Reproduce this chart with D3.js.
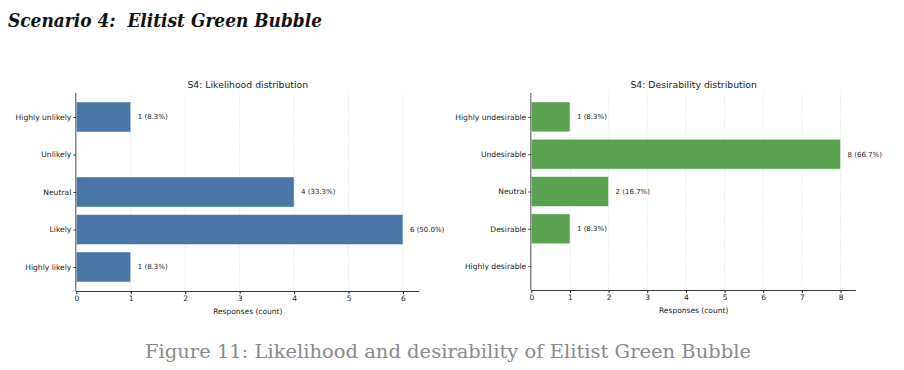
<!DOCTYPE html>
<html>
<head>
<meta charset="utf-8">
<script src="https://cdn.jsdelivr.net/npm/d3@7"></script>
<style>
  body { margin: 0; background: #fff; }
  svg { display: block; }
</style>
</head>
<body>
<svg id="chart" width="904" height="370"></svg>
<script>
// Data
const likelihoodCats = ['Highly unlikely', 'Unlikely', 'Neutral', 'Likely', 'Highly likely'];
const likelihoodCounts = [1, 0, 4, 6, 1];
const likelihoodLabels = ['1 (8.3%)', '', '4 (33.3%)', '6 (50.0%)', '1 (8.3%)'];
const likelihoodTicks = [0, 1, 2, 3, 4, 5, 6];

const desirabilityCats = ['Highly undesirable', 'Undesirable', 'Neutral', 'Desirable', 'Highly desirable'];
const desirabilityCounts = [1, 8, 2, 1, 0];
const desirabilityLabels = ['1 (8.3%)', '8 (66.7%)', '2 (16.7%)', '1 (8.3%)', ''];
const desirabilityTicks = [0, 1, 2, 3, 4, 5, 6, 7, 8];

const svg = d3.select('#chart');

// Heading and caption
svg.append('text')
    .attr('x', 8).attr('y', 27)
    .attr('textLength', 314).attr('lengthAdjust', 'spacingAndGlyphs')
    .style('white-space', 'pre')
    .style('font-family', '"DejaVu Serif", serif')
    .style('font-weight', 'bold').style('font-style', 'italic')
    .style('font-size', '19px').style('fill', '#111')
    .text('Scenario 4:  Elitist Green Bubble');

svg.append('text')
    .attr('x', 448).attr('y', 358)
    .attr('text-anchor', 'middle')
    .attr('textLength', 606).attr('lengthAdjust', 'spacingAndGlyphs')
    .style('font-family', '"DejaVu Serif", serif')
    .style('font-size', '19px').style('fill', '#8a8a8a')
    .text('Figure 11: Likelihood and desirability of Elitist Green Bubble');

// Draw one horizontal bar panel
const drawPanel = (opts) => {
    const { left, right, top, bottom, cats, counts, labels, ticks, xMax, color, title } = opts;
    const g = svg.append('g');

    const x = d3.scaleLinear().domain([0, xMax]).range([left, right]);
    const y = d3.scaleLinear().domain([-0.64, cats.length - 1 + 0.64]).range([top, bottom]);
    const barH = y(0.4) - y(-0.4);

    // grid
    g.selectAll('line.grid')
        .data(ticks)
        .join('line')
        .attr('x1', d => x(d)).attr('x2', d => x(d))
        .attr('y1', top).attr('y2', bottom)
        .style('stroke', '#ddd').style('stroke-width', 0.7)
        .style('stroke-dasharray', '1.5,1.5');

    // bars
    g.selectAll('rect')
        .data(counts)
        .join('rect')
        .attr('x', x(0))
        .attr('y', (d, i) => y(i) - barH / 2)
        .attr('width', d => x(d) - x(0))
        .attr('height', barH)
        .style('fill', color)
        .style('stroke', d => d > 0 ? '#fff' : 'none')
        .style('stroke-opacity', 0.6)
        .style('stroke-width', 0.8);

    // value labels
    g.selectAll('text.val')
        .data(counts)
        .join('text')
        .attr('x', d => x(d) + 7)
        .attr('y', (d, i) => y(i))
        .attr('dy', '0.35em')
        .style('font-family', '"DejaVu Sans", sans-serif')
        .style('font-size', '7px').style('fill', '#222')
        .text((d, i) => labels[i]);

    // x axis
    const xAxis = g.append('g')
        .attr('transform', `translate(0,${bottom})`)
        .call(d3.axisBottom(x).tickValues(ticks).tickSize(3).tickPadding(2).tickFormat(d3.format('d')));
    xAxis.select('.domain').style('stroke', '#222').style('stroke-width', 0.9)
        .attr('d', `M${left},0.5H${right}`);
    xAxis.selectAll('text').style('font-family', '"DejaVu Sans", sans-serif').style('font-size', '7.5px').style('fill', '#222');
    xAxis.selectAll('line').style('stroke', '#222');

    // y axis
    const yAxis = g.append('g')
        .attr('transform', `translate(${left},0)`)
        .call(d3.axisLeft(y).tickValues(d3.range(cats.length)).tickSize(3).tickPadding(2).tickFormat(i => cats[i]));
    yAxis.select('.domain').style('stroke', '#444').style('stroke-width', 0.9)
        .attr('d', `M-0.5,${top}V${bottom}`);
    yAxis.selectAll('text').style('font-family', '"DejaVu Sans", sans-serif').style('font-size', '7.6px').style('fill', '#222');
    yAxis.selectAll('line').style('stroke', '#444');

    // titles
    g.append('text')
        .attr('x', (left + right) / 2).attr('y', top - 5)
        .attr('text-anchor', 'middle')
        .style('font-family', '"DejaVu Sans", sans-serif')
        .style('font-size', '9.3px').style('fill', '#222')
        .text(title);
    g.append('text')
        .attr('x', (left + right) / 2).attr('y', bottom + 23)
        .attr('text-anchor', 'middle')
        .style('font-family', '"DejaVu Sans", sans-serif')
        .style('font-size', '7.5px').style('fill', '#222')
        .text('Responses (count)');
};

drawPanel({
    left: 76.3, right: 419.3, top: 93, bottom: 291,
    cats: likelihoodCats, counts: likelihoodCounts, labels: likelihoodLabels,
    ticks: likelihoodTicks, xMax: 6.3, color: '#4a76a7',
    title: 'S4: Likelihood distribution'
});

drawPanel({
    left: 531.3, right: 856, top: 93, bottom: 290,
    cats: desirabilityCats, counts: desirabilityCounts, labels: desirabilityLabels,
    ticks: desirabilityTicks, xMax: 8.4, color: '#5aa050',
    title: 'S4: Desirability distribution'
});
</script>
</body>
</html>
